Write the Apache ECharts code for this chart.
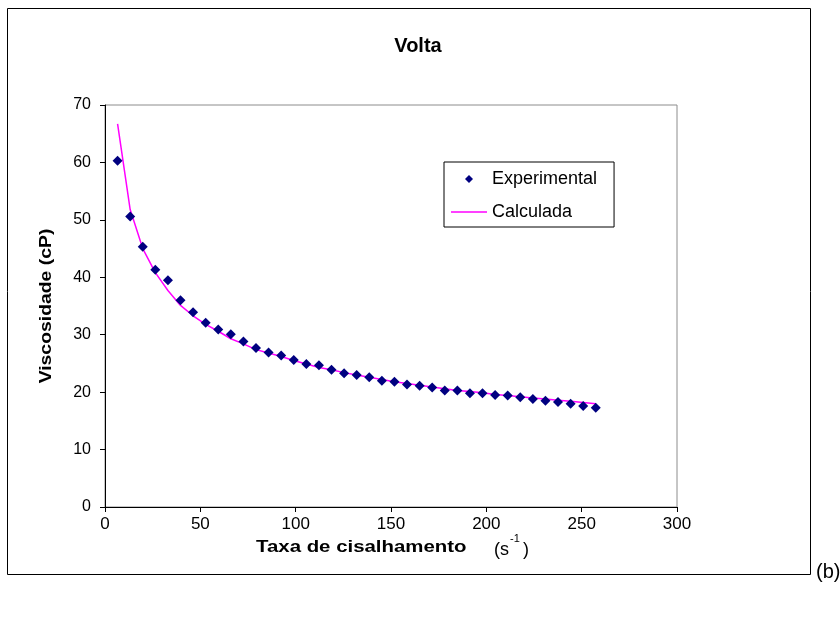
<!DOCTYPE html>
<html>
<head>
<meta charset="utf-8">
<script src="https://cdn.jsdelivr.net/npm/echarts@6/dist/echarts.min.js"></script>
<style>
  html, body { margin: 0; padding: 0; background: #ffffff; }
  #chart { width: 840px; height: 619px; }
</style>
</head>
<body>
<div id="chart"></div>
<script>
// Shear rate (s^-1) of each reading
const shearRate = [6.6, 13.2, 19.8, 26.4, 33.0, 39.6, 46.2, 52.8, 59.4, 66.0,
  72.6, 79.2, 85.8, 92.4, 99.0, 105.6, 112.2, 118.8, 125.4, 132.0,
  138.6, 145.2, 151.8, 158.4, 165.0, 171.6, 178.2, 184.8, 191.4, 198.0,
  204.6, 211.2, 217.8, 224.4, 231.0, 237.6, 244.2, 250.8, 257.4];

// Measured viscosity (cP)
const viscExperimental = [60.3, 50.6, 45.3, 41.3, 39.5, 36.0, 33.9, 32.1, 30.9, 30.1,
  28.8, 27.7, 26.9, 26.4, 25.6, 24.9, 24.7, 23.9, 23.3, 23.0,
  22.6, 22.0, 21.8, 21.35, 21.1, 20.8, 20.3, 20.3, 19.8, 19.8,
  19.5, 19.4, 19.1, 18.8, 18.5, 18.3, 18.0, 17.6, 17.3];

// Model viscosity (cP)
const viscCalculated = [66.7, 51.8, 45.0, 40.8, 37.7, 35.1, 33.3, 31.8, 30.6, 29.3,
  28.4, 27.4, 26.8, 26.2, 25.5, 24.9, 24.3, 23.9, 23.4, 23.0,
  22.6, 22.2, 21.8, 21.5, 21.2, 20.9, 20.6, 20.3, 20.1, 19.9,
  19.6, 19.4, 19.2, 19.0, 18.8, 18.6, 18.4, 18.2, 18.0];

const xTicks = [0, 50, 100, 150, 200, 250, 300];
const yTicks = [0, 10, 20, 30, 40, 50, 60, 70];

const FONT = '"Liberation Sans", Arial, Helvetica, sans-serif';

const chart = echarts.init(document.getElementById('chart'), null, { renderer: 'canvas' });

const pairs = (xs, ys) => xs.map((x, i) => [x, ys[i]]);

chart.setOption({
  backgroundColor: '#ffffff',
  animation: false,
  textStyle: { fontFamily: FONT, color: '#000' },
  title: {
    text: 'Volta',
    left: 413,
    top: 31,
    textAlign: 'center',
    textStyle: { fontFamily: FONT, fontSize: 20, fontWeight: 'bold', color: '#000' }
  },
  grid: {
    left: 105, top: 105, right: 163, bottom: 112,
    show: true, borderColor: '#8c8c8c', borderWidth: 1, backgroundColor: '#ffffff'
  },
  legend: {
    orient: 'vertical',
    left: 444,
    top: 162,
    padding: [7, 17, 5, 7],
    itemGap: 13,
    itemWidth: 36,
    itemHeight: 8,
    symbolKeepAspect: true,
    borderColor: '#000',
    borderWidth: 1,
    borderRadius: 0,
    backgroundColor: '#fff',
    textStyle: { fontFamily: FONT, fontSize: 18, color: '#000', lineHeight: 20 },
    data: [
      { name: 'Experimental', icon: 'path://M0,-4L4,0L0,4L-4,0Z' },
      { name: 'Calculada', icon: 'path://M0,0L36,0L36,1.5L0,1.5Z' }
    ]
  },
  xAxis: {
    type: 'value',
    min: xTicks[0],
    max: xTicks[xTicks.length - 1],
    interval: 50,
    axisLine: { show: true, lineStyle: { color: '#000', width: 1 } },
    axisTick: { show: true, length: 5, lineStyle: { color: '#000' } },
    axisLabel: { fontFamily: FONT, fontSize: 17, color: '#000', margin: 9 },
    splitLine: { show: false }
  },
  yAxis: {
    type: 'value',
    min: yTicks[0],
    max: yTicks[yTicks.length - 1],
    interval: 10,
    axisLine: { show: true, lineStyle: { color: '#000', width: 1 } },
    axisTick: { show: true, length: 5, lineStyle: { color: '#000' } },
    axisLabel: { fontFamily: FONT, fontSize: 16, color: '#000', margin: 14 },
    splitLine: { show: false }
  },
  series: [
    {
      name: 'Calculada',
      type: 'line',
      data: pairs(shearRate, viscCalculated),
      symbol: 'none',
      smooth: false,
      lineStyle: { color: '#ff00ff', width: 1.5 },
      itemStyle: { color: '#ff00ff' },
      z: 2
    },
    {
      name: 'Experimental',
      type: 'scatter',
      data: pairs(shearRate, viscExperimental),
      symbol: 'diamond',
      symbolSize: 10,
      itemStyle: { color: '#000080', opacity: 1 },
      z: 3
    }
  ],
  graphic: [
    {
      type: 'rect',
      shape: { x: 7.5, y: 8.5, width: 803, height: 566 },
      style: { fill: 'none', stroke: '#000', lineWidth: 1 },
      silent: true, z: 100
    },
    // y axis title, rotated and widened like the rest of the lettering
    {
      type: 'text', x: 46, y: 306, rotation: Math.PI / 2, scaleX: 1.14,
      style: { text: 'Viscosidade (cP)', font: 'bold 17px ' + FONT, fill: '#000',
               align: 'center', verticalAlign: 'middle' }
    },
    // x axis title with its unit
    {
      type: 'text', x: 256, y: 547, scaleX: 1.2,
      style: { text: 'Taxa de cisalhamento', font: 'bold 17px ' + FONT, fill: '#000',
               align: 'left', verticalAlign: 'middle' }
    },
    {
      type: 'text', x: 494, y: 550,
      style: { text: '(s', font: '18px ' + FONT, fill: '#000', align: 'left', verticalAlign: 'middle' }
    },
    {
      type: 'text', x: 510, y: 539,
      style: { text: '-1', font: '11px ' + FONT, fill: '#000', align: 'left', verticalAlign: 'middle' }
    },
    {
      type: 'text', x: 523, y: 550,
      style: { text: ')', font: '18px ' + FONT, fill: '#000', align: 'left', verticalAlign: 'middle' }
    },
    {
      type: 'text', x: 816, y: 572,
      style: { text: '(b)', font: '20px ' + FONT, fill: '#000', align: 'left', verticalAlign: 'middle' }
    }
  ]
});
</script>
</body>
</html>
